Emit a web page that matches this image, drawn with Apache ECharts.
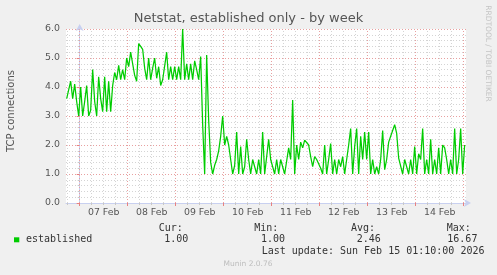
<!DOCTYPE html>
<html><head><meta charset="utf-8">
<script src="https://cdn.jsdelivr.net/npm/echarts@6/dist/echarts.min.js"></script>
<style>html,body{margin:0;padding:0;background:#f0f0f0}#c{width:497px;height:275px}</style>
</head><body><div id="c"></div>
<script>
// Hours relative to 07 Feb 00:00
const dayLabels = ['07 Feb','08 Feb','09 Feb','10 Feb','11 Feb','12 Feb','13 Feb','14 Feb'];
const dayTicks = [0,24,48,72,96,120,144,168,192];
const labelTicks = [12,36,60,84,108,132,156,180];
const quarterTicks = [-6,6,12,18,30,36,42,54,60,66,78,84,90,102,108,114,126,132,138,150,156,162,174,180,186];
const yTicks = ['0.0','1.0','2.0','3.0','4.0','5.0','6.0'];
const startHour = -6.5, stepHour = 1;
const established = [
 3.6,3.55,4.2,3.6,4.1,3.5,3.0,4.0,3.0,3.5,4.05,3.0,3.2,4.6,3.5,3.0,4.35,3.6,3.15,4.35,3.15,4.2,3.15,4.05,
 4.5,4.25,4.75,4.25,4.6,4.25,5.0,4.7,5.2,4.8,4.4,4.2,5.5,5.4,5.3,
 4.65,4.25,5.0,4.25,4.65,5.0,4.3,4.7,4.05,4.25,4.3,5.2,4.25,4.7,4.25,4.7,4.25,4.7,4.25,6.0,4.25,4.8,4.25,4.8,4.25,4.9,4.6,4.25,5.05,2.7,1.0,5.1,
 2.86,1.4,1.0,1.3,1.5,1.8,2.3,3.0,
 2.0,2.3,2.0,1.5,1.0,1.3,2.45,1.0,1.95,1.0,1.25,2.2,1.5,1.0,1.5,1.55,1.0,1.5,1.0,2.45,1.0,1.6,2.2,
 1.5,1.5,1.0,1.5,1.0,1.5,1.5,1.0,1.0,1.9,1.5,
 3.55,1.0,2.0,1.5,2.1,1.9,
 2.17,2.2,2.0,1.6,1.25,1.6,1.5,
 1.5,1.2,1.0,2.0,1.0,1.5,2.05,1.0,1.5,1.0,1.5,1.25,1.6,1.0,1.5,2.0,2.57,1.0,1.95,2.57,1.0,2.3,1.5,2.45,1.5,2.45,1.0,1.5,1.0,1.25,1.0,1.5,2.5,
 1.15,1.5,2.1,2.3,2.35,2.7,2.4,1.55,1.6,1.0,1.5,1.5,1.0,1.5,1.0,1.95,1.0,1.7,1.5,2.57,1.0,1.5,1.0,2.2,1.0,1.5,1.0,1.9,1.0,2.0,1.9,1.5,1.0,1.5,1.0,2.57,1.0,1.5,2.57,1.0,2.0
];
const statHeaders = ['Cur:','Min:','Avg:','Max:'];
const statValues = ['1.00','1.00','2.46','16.67'];
const seriesName = 'established';
const titleText = 'Netstat, established only - by week';
const yTitle = 'TCP connections';
const lastUpdate = 'Last update: Sun Feb 15 01:10:00 2026';
const footer = 'Munin 2.0.76';
const sideText = 'RRDTOOL / TOBI OETIKER';

const data = established.map((v,i)=>[startHour + i*stepHour, v]);
const xMin = -6.8333, xMax = 193.1667;
const SANS = 'DejaVu Sans', MONO = 'DejaVu Sans Mono';
const majorCol = '#e8a0a0', minorCol = '#d4d4d4', axisCol = '#c8d0f0';

const chart = echarts.init(document.getElementById('c'), null, {renderer:'canvas'});
const headX = [158.7, 254.3, 351, 446.7];
const valX = [164.3, 261, 356.7, 447.3];
const graphics = [
  {type:'text', x:248.5, y:18.5, style:{text:titleText, font:'13px "'+SANS+'"', fill:'#555', align:'center', verticalAlign:'middle'}},
  {type:'text', x:11, y:111, rotation:Math.PI/2, style:{text:yTitle, font:'10px "'+SANS+'"', fill:'#555', align:'center', verticalAlign:'middle'}},
  {type:'text', x:487.7, y:53.5, rotation:-Math.PI/2, style:{text:sideText, font:'7.5px "'+SANS+'"', fill:'#c4c4c4', align:'center', verticalAlign:'middle'}},
  {type:'rect', shape:{x:14, y:237.3, width:5.3, height:5}, style:{fill:'#00cc00'}},
  {type:'text', x:26, y:239.5, style:{text:seriesName, font:'10px "'+MONO+'"', fill:'#333', align:'left', verticalAlign:'middle'}},
  {type:'text', x:261.7, y:251.7, style:{text:lastUpdate, font:'10px "'+MONO+'"', fill:'#333', align:'left', verticalAlign:'middle'}},
  {type:'text', x:248, y:264, style:{text:footer, font:'7.5px "'+SANS+'"', fill:'#bdbdbd', align:'center', verticalAlign:'middle'}}
];
statHeaders.forEach((t,i)=>graphics.push({type:'text', x:headX[i], y:228, style:{text:t, font:'10px "'+MONO+'"', fill:'#333', align:'left', verticalAlign:'middle'}}));
statValues.forEach((t,i)=>graphics.push({type:'text', x:valX[i], y:239.5, style:{text:t, font:'10px "'+MONO+'"', fill:'#333', align:'left', verticalAlign:'middle'}}));

const gridLines = quarterTicks.map(h=>({xAxis:h, lineStyle:{color:minorCol, type:[1,2], width:1}}))
  .concat(dayTicks.map(h=>({xAxis:h, lineStyle:{color:majorCol, type:[1,2], width:1}})));

chart.setOption({
  animation:false,
  backgroundColor:'#f0f0f0',
  grid:{left:66, top:29, width:400, height:174, show:true, backgroundColor:'#ffffff', borderWidth:0},
  xAxis:[{
    type:'value', min:xMin, max:xMax, position:'bottom',
    axisLine:{show:true, lineStyle:{color:axisCol, width:1}, symbol:['none','arrow'], symbolSize:[6,7], symbolOffset:[0,5]},
    axisTick:{show:true, customValues:dayTicks, length:3, inside:false, lineStyle:{color:'#e88080'}},
    axisLabel:{show:true, customValues:labelTicks, margin:5, color:'#555', fontFamily:SANS, fontSize:9.4,
      formatter:(v)=>{const i=labelTicks.indexOf(Math.round(v)); return i>=0?dayLabels[i]:'';}},
    splitLine:{show:false}
  },{
    type:'value', min:xMin, max:xMax, position:'bottom',
    axisLine:{show:false},
    axisTick:{show:true, customValues:quarterTicks, length:2, lineStyle:{color:'#c8c8c8'}},
    axisLabel:{show:false},
    splitLine:{show:false}
  }],
  yAxis:{
    type:'value', min:0, max:6, interval:1,
    axisLine:{show:true, lineStyle:{color:axisCol, width:1}, symbol:['none','arrow'], symbolSize:[6,7], symbolOffset:[0,5]},
    axisTick:{show:true, length:3, lineStyle:{color:'#e88080'}},
    minorTick:{show:true, splitNumber:5, length:2, lineStyle:{color:'#c8c8c8'}},
    axisLabel:{margin:6, color:'#555', fontFamily:SANS, fontSize:9.4, formatter:(v)=>yTicks[Math.round(v)]},
    splitLine:{show:true, lineStyle:{color:majorCol, type:[1,2], width:1}},
    minorSplitLine:{show:true, lineStyle:{color:minorCol, type:[1,2], width:1}}
  },
  series:[{
    name:'grid', type:'line', xAxisIndex:0, data:data, showSymbol:false, symbol:'none',
    lineStyle:{opacity:0}, silent:true, z:1,
    markLine:{silent:true, symbol:'none', label:{show:false}, animation:false, data:gridLines}
  },{
    name:seriesName, type:'line', xAxisIndex:0, data:data, showSymbol:false, symbol:'none',
    lineStyle:{color:'#00cc00', width:1.25}, itemStyle:{color:'#00cc00'}, z:5
  }],
  graphic:graphics
});
</script></body></html>
